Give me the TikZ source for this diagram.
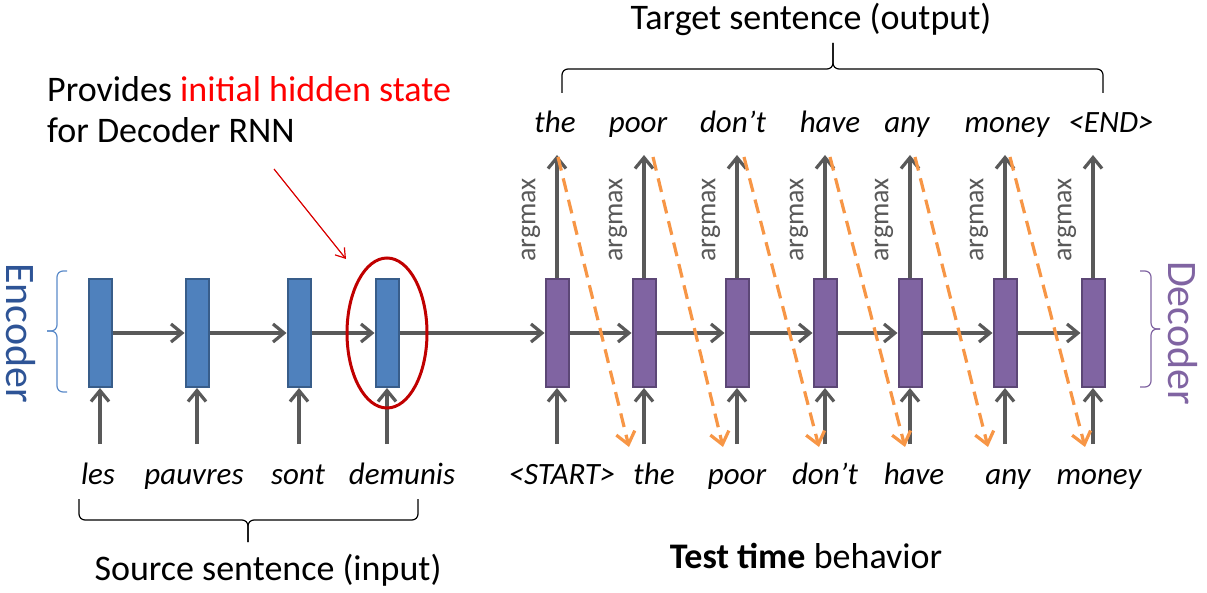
\documentclass[tikz,border=0pt]{standalone}
\usepackage{fontspec}
\setmainfont{Carlito}
\usetikzlibrary{arrows.meta,shapes.geometric}
\definecolor{encfill}{HTML}{4F81BD}
\definecolor{encdraw}{HTML}{385D8A}
\definecolor{decfill}{HTML}{8064A2}
\definecolor{decdraw}{HTML}{5C4776}
\definecolor{arrowgray}{HTML}{595959}
\definecolor{orangec}{HTML}{F79646}
\definecolor{enclabel}{RGB}{46,84,150}
\definecolor{encbrace}{HTML}{5B8BC9}
\definecolor{darkred}{HTML}{C00000}
\definecolor{brightred}{HTML}{FF0000}
\begin{document}
\begin{tikzpicture}[x=1pt,y=-1pt,
  encbox/.style={rectangle, draw=encdraw, fill=encfill, line width=2pt, minimum width=23pt, minimum height=108pt, inner sep=0pt},
  decbox/.style={rectangle, draw=decdraw, fill=decfill, line width=2pt, minimum width=23pt, minimum height=108pt, inner sep=0pt},
  garrow/.style={draw=arrowgray, line width=3.2pt, -{Straight Barb[length=11pt,width=18pt]}},
  oarrow/.style={draw=orangec, line width=3.2pt, dash pattern=on 14pt off 8pt, -{Straight Barb[length=12pt,width=19pt]}},
  word/.style={font=\fontsize{31}{36}\selectfont\itshape, anchor=base, inner sep=0pt},
  bigtext/.style={font=\fontsize{36}{41}\selectfont, anchor=base, inner sep=0pt},
  argtext/.style={font=\fontsize{28}{32}\selectfont, text=arrowgray, rotate=90, inner sep=0pt},
  thinbrace/.style={line width=1.2pt, rounded corners=6pt}
]
\useasboundingbox (0,0) rectangle (1207,593);

% encoder boxes
\node[encbox] (e1) at (100,333) {};
\node[encbox] (e2) at (197,333) {};
\node[encbox] (e3) at (299,333) {};
\node[encbox] (e4) at (387,333) {};

% decoder boxes
\node[decbox] (d1) at (557,333) {};
\node[decbox] (d2) at (644,333) {};
\node[decbox] (d3) at (737,333) {};
\node[decbox] (d4) at (825,333) {};
\node[decbox] (d5) at (910,333) {};
\node[decbox] (d6) at (1005,333) {};
\node[decbox] (d7) at (1093,333) {};

% horizontal arrows
\draw[garrow] (e1.east) -- (e2.west);
\draw[garrow] (e2.east) -- (e3.west);
\draw[garrow] (e3.east) -- (e4.west);
\draw[garrow] (e4.east) -- (d1.west);
\draw[garrow] (d1.east) -- (d2.west);
\draw[garrow] (d2.east) -- (d3.west);
\draw[garrow] (d3.east) -- (d4.west);
\draw[garrow] (d4.east) -- (d5.west);
\draw[garrow] (d5.east) -- (d6.west);
\draw[garrow] (d6.east) -- (d7.west);

% input arrows encoder
\foreach \n/\x in {e1/100,e2/197,e3/299,e4/387}{
  \coordinate (in\n) at (\x,444);
  \draw[garrow] (in\n) -- (\n.south);
}
% input and output arrows decoder
\foreach \n/\x in {d1/557,d2/644,d3/737,d4/825,d5/910,d6/1005,d7/1093}{
  \coordinate (in\n) at (\x,444);
  \coordinate (up\n) at (\x,155);
  \draw[garrow] (in\n) -- (\n.south);
  \draw[garrow] (\n.north) -- (up\n);
  \node[argtext] (arg\n) at (\x-26,220) {argmax};
}

% orange dashed feedback arrows
\foreach \i/\sx/\ex in {1/558/629, 2/653/723, 3/744/819, 4/830/905, 5/915/988, 6/1010/1085}{
  \coordinate (os\i) at (\sx,157);
  \coordinate (oe\i) at (\ex,447);
  \draw[oarrow] (os\i) -- (oe\i);
}

% red ellipse and pointer
\node[draw=darkred, line width=3pt, ellipse, minimum width=80pt, minimum height=150pt, inner sep=0pt] (circ) at (387,333) {};
\coordinate (rstart) at (274,169);
\coordinate (rend) at (346,259);
\draw[brightred!85!black, line width=1.2pt, -{Straight Barb[length=9pt,width=12pt]}] (rstart) -- (rend);

% annotation text
\node[bigtext, anchor=base west] (prov) at (47,102) {Provides \textcolor{brightred}{initial hidden state}};
\node[bigtext, anchor=base west] (prov2) at (47,143) {for Decoder RNN};

% encoder words
\node[word] (w1) at (98,484) {les};
\node[word] (w2) at (194,484) {pauvres};
\node[word] (w3) at (298,484) {sont};
\node[word] (w4) at (402,484) {demunis};

% decoder input words
\node[word] (i1) at (562,484) {<START>};
\node[word] (i2) at (654,484) {the};
\node[word] (i3) at (737,484) {poor};
\node[word] (i4) at (825,484) {don’t};
\node[word] (i5) at (914,484) {have};
\node[word] (i6) at (1008,484) {any};
\node[word] (i7) at (1099,484) {money};

% decoder output words
\node[word] (o1) at (555,133) {the};
\node[word] (o2) at (638,133) {poor};
\node[word] (o3) at (733,133) {don’t};
\node[word] (o4) at (830,133) {have};
\node[word] (o5) at (907,133) {any};
\node[word] (o6) at (1007,133) {money};
\node[word] (o7) at (1111,133) {<END>};

% target brace
\coordinate (tl) at (562,93);
\coordinate (tr) at (1103,93);
\coordinate (tt) at (833,43);
\draw[thinbrace] (tl) -- (562,69) -- (833,69) -- (tt);
\draw[thinbrace] (tr) -- (1103,69) -- (833,69) -- (tt);
\node[bigtext] (target) at (811,30) {Target sentence (output)};

% source brace
\coordinate (sl) at (79,499);
\coordinate (sr) at (418,499);
\coordinate (st) at (248,542);
\draw[thinbrace] (sl) -- (79,520) -- (248,520) -- (st);
\draw[thinbrace] (sr) -- (418,520) -- (248,520) -- (st);
\node[bigtext] (source) at (268,580) {Source sentence (input)};

% test time
\node[bigtext] (test) at (806,568) {\textbf{Test time} behavior};

% encoder brace & label
\coordinate (ebt) at (67,271);
\coordinate (ebb) at (67,392);
\coordinate (ebm) at (47,331);
\draw[thinbrace, draw=encbrace] (ebt) -- (57,271) -- (57,331) -- (ebm);
\draw[thinbrace, draw=encbrace] (ebb) -- (57,392) -- (57,331) -- (ebm);
\node[font=\fontsize{42}{48}\selectfont, text=enclabel, rotate=-90, inner sep=0pt, anchor=north] (enc) at (36,333) {Encoder};

% decoder brace & label
\coordinate (dbt) at (1140,271);
\coordinate (dbb) at (1140,387);
\coordinate (dbm) at (1160,329);
\draw[thinbrace, draw=decfill] (dbt) -- (1151,271) -- (1151,329) -- (dbm);
\draw[thinbrace, draw=decfill] (dbb) -- (1151,387) -- (1151,329) -- (dbm);
\node[font=\fontsize{42}{48}\selectfont, text=decfill, rotate=-90, inner sep=0pt] (dec) at (1183,333) {Decoder};
\end{tikzpicture}
\end{document}
